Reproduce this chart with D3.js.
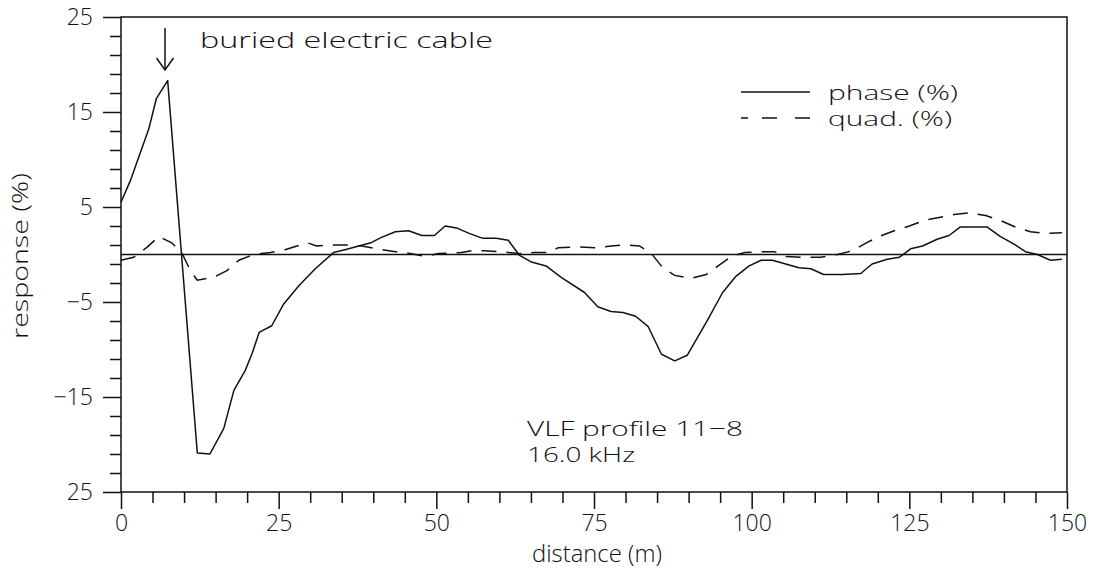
<!DOCTYPE html>
<html>
<head>
<meta charset="utf-8">
<script src="https://cdn.jsdelivr.net/npm/d3@7"></script>
<style>
  html, body { margin: 0; padding: 0; background: #fff; }
  svg { display: block; }
  text { font-family: "Open Sans", "DejaVu Sans", sans-serif; font-weight: 300; fill: #111; }
</style>
</head>
<body>
<svg id="chart" width="1103" height="574"></svg>
<script>
// ---- data ----
const phaseDist = [0, 1.5, 3, 4.4, 5.6, 7.4, 12.1, 14.1, 16.3, 17.9, 19.7, 20.8, 21.9, 23.9, 25.8, 28.2, 30.8, 33.7, 35.5, 37.7, 39.5, 41.3, 43.5, 45.6, 47.7, 49.7, 51.4, 53.2, 55.3, 57.4, 59.5, 61.4, 63.2, 65.1, 67.4, 69.8, 73.5, 75.6, 77.7, 79.6, 81.6, 83.6, 85.7, 87.8, 89.8, 93, 95.4, 97.5, 99.6, 101.5, 103.3, 105.4, 107.5, 109.4, 111.4, 114.4, 117.3, 119.1, 121.5, 123.4, 125.2, 127.1, 129.4, 131.3, 133.1, 137.3, 139.4, 141.6, 143.4, 145.3, 147.4, 149.2];
const phaseVal  = [5.5, 7.8, 10.6, 13.2, 16.4, 18.3, -20.9, -21.0, -18.3, -14.3, -12.2, -10.4, -8.2, -7.5, -5.2, -3.3, -1.5, 0.2, 0.5, 0.9, 1.2, 1.8, 2.4, 2.5, 2.0, 2.0, 3.0, 2.8, 2.2, 1.7, 1.7, 1.5, -0.1, -0.8, -1.2, -2.4, -4.0, -5.5, -6.0, -6.1, -6.5, -7.6, -10.5, -11.2, -10.6, -6.9, -4.0, -2.3, -1.2, -0.6, -0.6, -1.0, -1.4, -1.5, -2.1, -2.1, -2.0, -1.0, -0.5, -0.3, 0.6, 0.9, 1.6, 2.0, 2.9, 2.9, 1.9, 1.1, 0.3, 0.0, -0.6, -0.5];

const quadDist = [0, 2, 4.2, 6, 8.1, 9.7, 11, 12.1, 14.7, 16.8, 18.7, 21, 23.7, 26, 28.4, 29.7, 31, 33.4, 35.8, 38.2, 40.6, 43.5, 45, 48.2, 50.3, 54, 55.6, 57.7, 60.1, 63, 65.6, 67.7, 69.3, 72.5, 75.1, 77.7, 79.9, 82.2, 84.1, 85.9, 87.8, 90.4, 92.8, 94.9, 96.8, 98.9, 101.5, 103.6, 105.2, 107.8, 111, 113.6, 116, 118.4, 120.2, 122.6, 125, 127.4, 129.7, 132.1, 134.5, 137.1, 139.4, 141.8, 144.2, 146.6, 149.2];
const quadVal  = [-0.6, -0.3, 0.8, 1.9, 1.2, 0.1, -1.7, -2.7, -2.4, -1.7, -0.6, 0.0, 0.2, 0.5, 1.0, 1.2, 0.9, 1.0, 1.0, 0.9, 0.6, 0.3, 0.2, -0.2, 0.1, 0.2, 0.4, 0.4, 0.3, 0.1, 0.2, 0.2, 0.7, 0.8, 0.7, 0.9, 1.0, 0.9, 0.1, -1.4, -2.2, -2.5, -2.1, -1.1, -0.2, 0.2, 0.3, 0.3, -0.2, -0.3, -0.3, 0.0, 0.4, 1.3, 1.9, 2.5, 3.0, 3.6, 3.9, 4.2, 4.4, 4.1, 3.6, 2.9, 2.4, 2.2, 2.3];

const xMajorTicks = [0, 25, 50, 75, 100, 125, 150];
const xTickLabels = ["0", "25", "50", "75", "100", "125", "150"];
const yMajorTicks = [-25, -15, -5, 5, 15, 25];
const yTickLabels = ["25", "\u221215", "\u22125", "5", "15", "25"];
const seriesNames = ["phase (%)", "quad. (%)"];

// ---- layout ----
const svg = d3.select("#chart");
const X0 = 121, X1 = 1067, Y0 = 492, Y1 = 17;
const x = d3.scaleLinear().domain([0, 150]).range([X0, X1]);
const y = d3.scaleLinear().domain([-25, 25]).range([Y0, Y1]);
const ink = "#111";

// frame
svg.append("rect").attr("x", X0).attr("y", Y1).attr("width", X1 - X0).attr("height", Y0 - Y1)
  .attr("fill", "none").attr("stroke", ink).attr("stroke-width", 1.5);

// minor ticks
const xMinor = d3.range(0, 151, 5).filter(v => !xMajorTicks.includes(v));
const yMinor = d3.range(-25, 26, 2).filter(v => !yMajorTicks.includes(v));

const gxMinor = svg.append("g").attr("transform", `translate(0,${Y0})`)
  .call(d3.axisBottom(x).tickValues(xMinor).tickSize(11).tickFormat(""));
const gx = svg.append("g").attr("transform", `translate(0,${Y0})`)
  .call(d3.axisBottom(x).tickValues(xMajorTicks).tickSize(17).tickPadding(6)
    .tickFormat((d, i) => xTickLabels[i]));
const gyMinor = svg.append("g").attr("transform", `translate(${X0},0)`)
  .call(d3.axisLeft(y).tickValues(yMinor).tickSize(11).tickFormat(""));
const gy = svg.append("g").attr("transform", `translate(${X0},0)`)
  .call(d3.axisLeft(y).tickValues(yMajorTicks).tickSize(18).tickPadding(10)
    .tickFormat((d, i) => yTickLabels[i]));

[gxMinor, gx, gyMinor, gy].forEach(g => {
  g.select(".domain").remove();
  g.selectAll(".tick line").attr("stroke", ink).attr("stroke-width", 1.5);
  g.selectAll(".tick text").attr("font-size", 23).attr("fill", ink)
    .style("font-family", "'Open Sans', 'DejaVu Sans', sans-serif").style("font-weight", 300);
});

// zero line
svg.append("line").attr("x1", X0).attr("x2", X1).attr("y1", y(0)).attr("y2", y(0))
  .attr("stroke", ink).attr("stroke-width", 1.5);

// series
const line = d3.line().x(d => x(d[0])).y(d => y(d[1]));
const phase = phaseDist.map((d, i) => [d, phaseVal[i]]);
const quad = quadDist.map((d, i) => [d, quadVal[i]]);

svg.append("path").datum(phase).attr("d", line)
  .attr("fill", "none").attr("stroke", ink).attr("stroke-width", 1.5).attr("stroke-linejoin", "round");
svg.append("path").datum(quad).attr("d", line)
  .attr("fill", "none").attr("stroke", ink).attr("stroke-width", 1.5)
  .attr("stroke-dasharray", "15,10");

// legend
svg.append("line").attr("x1", 741).attr("x2", 810).attr("y1", 92).attr("y2", 92)
  .attr("stroke", ink).attr("stroke-width", 1.5);
svg.append("line").attr("x1", 741).attr("x2", 810).attr("y1", 118).attr("y2", 118)
  .attr("stroke", ink).attr("stroke-width", 1.5).attr("stroke-dasharray", "7,14,15,18,15");
svg.append("text").attr("x", 828).attr("y", 100).attr("font-size", 20)
  .attr("textLength", 130).attr("lengthAdjust", "spacingAndGlyphs").text(seriesNames[0]);
svg.append("text").attr("x", 828).attr("y", 126).attr("font-size", 20)
  .attr("textLength", 124).attr("lengthAdjust", "spacingAndGlyphs").text(seriesNames[1]);

// annotation arrow + label
svg.append("line").attr("x1", 165).attr("x2", 165).attr("y1", 28).attr("y2", 70)
  .attr("stroke", ink).attr("stroke-width", 1.5);
svg.append("path").attr("d", "M156.5,58 L165,70 L173.5,58")
  .attr("fill", "none").attr("stroke", ink).attr("stroke-width", 1.5);
svg.append("text").attr("x", 200).attr("y", 48).attr("font-size", 22)
  .attr("textLength", 293).attr("lengthAdjust", "spacingAndGlyphs").text("buried electric cable");

// profile note
svg.append("text").attr("x", 527).attr("y", 436).attr("font-size", 21)
  .attr("textLength", 216).attr("lengthAdjust", "spacingAndGlyphs").text("VLF profile 11\u22128");
svg.append("text").attr("x", 527).attr("y", 462).attr("font-size", 21)
  .attr("textLength", 108).attr("lengthAdjust", "spacingAndGlyphs").text("16.0 kHz");

// axis titles
svg.append("text").attr("x", 597).attr("y", 562).attr("font-size", 23)
  .attr("text-anchor", "middle").attr("textLength", 130).attr("lengthAdjust", "spacingAndGlyphs")
  .text("distance (m)");
svg.append("text").attr("transform", "translate(28,256) rotate(-90)")
  .attr("font-size", 22).attr("text-anchor", "middle")
  .attr("textLength", 166).attr("lengthAdjust", "spacingAndGlyphs").text("response (%)");
</script>
</body>
</html>
